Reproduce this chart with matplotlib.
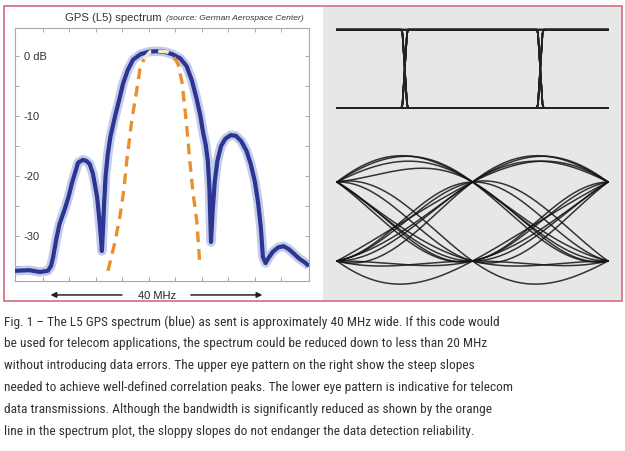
import numpy as np
import matplotlib
matplotlib.use("Agg")
import matplotlib.pyplot as plt
from matplotlib.patches import Rectangle
from matplotlib.transforms import blended_transform_factory
from matplotlib import font_manager as fm

# ---------------------------------------------------------------- data
L5_CENTER = 1176.45  # MHz

# measured GPS L5 spectrum, offset from carrier (MHz) and level (dB)
spec_mhz = [-26.7, -24.0, -22.0, -20.5, -19.9, -19.5, -18.9, -18.3, -17.3, -16.6,
            -15.9, -15.3, -14.8, -13.9, -13.2, -12.6, -12.0, -11.6, -11.2, -10.8,
            -10.5, -10.3, -10.1, -9.9, -9.6, -9.2, -8.7, -7.8, -7.0, -6.3,
            -5.4, -4.4, -3.0, -1.5, 0.0, 1.5, 3.0, 4.5, 5.7, 6.7,
            7.6, 8.3, 8.8, 9.3, 9.7, 10.0, 10.3, 10.6, 11.0, 11.5,
            12.2, 13.0, 14.0, 15.0, 16.0, 17.0, 17.8, 18.6, 19.2, 19.7,
            20.1, 20.6, 21.2, 22.0, 23.0, 24.0, 25.0, 26.0, 27.0, 28.0, 28.8]
spec_db = [-35.8, -35.7, -36.0, -35.8, -35.0, -33.5, -30.5, -28.0, -25.5, -23.5,
           -21.0, -19.3, -17.8, -17.3, -17.5, -18.0, -19.6, -21.5, -23.5, -27.0,
           -30.0, -32.5, -29.0, -25.0, -20.0, -16.5, -13.5, -10.0, -7.2, -4.6,
           -2.3, -0.6, 0.3, 0.7, 0.8, 0.7, 0.3, -0.4, -1.7, -4.1,
           -7.2, -10.0, -12.7, -14.8, -17.5, -22.0, -31.0, -26.0, -21.0, -17.5,
           -15.0, -13.8, -13.2, -13.3, -14.2, -15.8, -18.0, -21.0, -24.5, -28.5,
           -33.5, -34.5, -33.6, -32.6, -31.9, -31.7, -32.2, -33.0, -33.8, -34.4, -35.0]

# band-limited telecom spectrum (orange dashed line)
tele_mhz = [-9.15, -7.83, -6.89, -6.13, -5.57, -4.62, -3.68, -3.11, -2.36,
            -1.23, 0.28, 1.98, 3.30, 4.06, 4.81, 5.38, 5.94, 6.32, 6.89, 7.64, 8.21]
tele_db = [-35.8, -31.0, -26.7, -22.2, -17.2, -10.5, -5.5, -2.2, -0.5,
           0.7, 0.8, 0.7, -0.2, -1.3, -4.3, -8.8, -13.8, -17.7, -22.7, -27.7, -35.0]

db_labels = {0: "0 dB", -10: "-10", -20: "-20", -30: "-30"}

# bit sequence shown in both eye diagrams
eye_bits = [1, -1, 1, 1, -1, -1, 1, -1, -1, 1, 1, 1, -1, 1, -1, 1, 1, -1, -1, -1,
            1, 1, -1, 1, -1, -1, 1, 1, -1, 1, 1, -1, -1, 1, -1, 1, 1, 1, -1, -1]

caption = [
    "Fig. 1 \u2013 The L5 GPS spectrum (blue) as sent is approximately 40 MHz wide. If this code would",
    "be used for telecom applications, the spectrum could be reduced down to less than 20 MHz",
    "without introducing data errors. The upper eye pattern on the right show the steep slopes",
    "needed to achieve well-defined correlation peaks. The lower eye pattern is indicative for telecom",
    "data transmissions. Although the bandwidth is significantly reduced as shown by the orange",
    "line in the spectrum plot, the sloppy slopes do not endanger the data detection reliability.",
]

# ---------------------------------------------------------------- figure
W, H = 625, 452
fig = plt.figure(figsize=(W / 100, H / 100), dpi=100)
fig.patch.set_facecolor("white")
plot_font = ["Liberation Sans", "DejaVu Sans"]


def box(x0, y0, x1, y1):
    """Pixel box (top-left origin) -> figure fraction rect."""
    return [x0 / W, 1 - y1 / H, (x1 - x0) / W, (y1 - y0) / H]


def frect(x0, y0, x1, y1, **kw):
    r = Rectangle((x0 / W, 1 - y1 / H), (x1 - x0) / W, (y1 - y0) / H,
                  transform=fig.transFigure, **kw)
    fig.patches.append(r)


frect(323, 8, 621, 301, facecolor="#e7e7e7", edgecolor="none", zorder=-2)
frect(3.5, 7, 621.5, 302, fill=False, edgecolor="#d66a80", lw=1.2, zorder=5)

# ---------------------------------------------------------------- spectrum
ax = fig.add_axes(box(15, 28.5, 309, 282))
ax.set_xlim(-26.7, 28.8)
ax.set_ylim(-37.5, 4.75)
for s in ax.spines.values():
    s.set_color("#a8a8a8")
    s.set_linewidth(0.8)
ax.set_xticks(np.arange(1155, 1201, 5) - L5_CENTER)
ax.set_yticks(np.arange(-35, 5, 5))
ax.tick_params(direction="in", length=3, width=0.6, color="#999999",
               top=True, right=True, labelbottom=False, labelleft=False)

ax.plot(spec_mhz, spec_db, color="#a7b1e0", lw=6.8, alpha=0.65,
        solid_joinstyle="round", solid_capstyle="butt", zorder=2)
ax.plot(spec_mhz, spec_db, color="#2b3592", lw=3.0,
        solid_joinstyle="round", solid_capstyle="butt", zorder=3)

# telecom mask: pale on top where it lies over the blue band
tm = np.array(tele_mhz)
td = np.array(tele_db)
top = (tm >= -2.4) & (tm <= 3.4)
left = tm <= -2.3
right = tm >= 3.2
dash = (3.2, 2.1)
ax.plot(tm[left], td[left], color="#e98f2e", lw=2.4, dashes=dash, zorder=4)
ax.plot(tm[right], td[right], color="#e98f2e", lw=2.4, dashes=dash, zorder=4)
ax.plot(tm[top], td[top], color="#f4ead2", lw=2.4, dashes=dash, zorder=4)

tr = blended_transform_factory(ax.transAxes, ax.transData)
for v, lab in db_labels.items():
    ax.text(0.03, v, lab, transform=tr, ha="left", va="center",
            fontsize=8, color="#333333", family=plot_font)

fig.text(65 / W, 1 - 18 / H, "GPS (L5) spectrum", fontsize=8.1,
         color="#333333", va="center", ha="left", family=plot_font)
fig.text(166 / W, 1 - 18.5 / H, "(source: German Aerospace Center)",
         fontsize=6.1, style="italic", color="#333333", va="center", ha="left",
         family=plot_font)

# 40 MHz span arrows below the plot
ya = -0.055
ap = dict(arrowstyle="-|>", color="#222222", lw=1.1, mutation_scale=8,
          shrinkA=0, shrinkB=0)
ax.annotate("", xy=(-20, ya), xytext=(-6.5, ya),
            xycoords=("data", "axes fraction"), arrowprops=ap, annotation_clip=False)
ax.annotate("", xy=(20, ya), xytext=(6.5, ya),
            xycoords=("data", "axes fraction"), arrowprops=ap, annotation_clip=False)
ax.text(0.1, ya, "40 MHz", transform=blended_transform_factory(ax.transData, ax.transAxes),
        ha="center", va="center", fontsize=8, color="#222222", family=plot_font)

# ---------------------------------------------------------------- eye diagrams
bits = np.array(eye_bits, dtype=float)
idx = np.arange(len(bits))
tt = np.linspace(0, 2, 241)


def nrz(t, width=0.037):
    m = np.floor(t).astype(int)
    m = np.clip(m, 0, len(bits) - 2)
    frac = np.clip((t - m - 0.5) / width + 0.5, 0, 1)
    return bits[m] + (bits[m + 1] - bits[m]) * frac


def raised_cos(t, beta=0.3):
    den = 1 - (2 * beta * t) ** 2
    near = np.abs(den) < 1e-4
    safe = np.where(near, 1.0, den)
    val = np.sinc(t) * np.cos(np.pi * beta * t) / safe
    limit = np.pi / 4 * np.sinc(1 / (2 * beta))
    return np.where(near, limit, val)


def shaped(t):
    return (bits[None, :] * raised_cos(t[:, None] - idx[None, :])).sum(axis=1)


ax_up = fig.add_axes(box(337, 30.7, 608, 109))
ax_lo = fig.add_axes(box(337, 183, 608, 262))
for a in (ax_up, ax_lo):
    a.set_xlim(0, 2)
    a.set_ylim(-1, 1)
    a.axis("off")

for k in range(10, len(bits) - 11):
    ax_up.plot(tt, nrz(k + tt), color="#222222", lw=1.2, clip_on=False)
    ax_lo.plot(tt, shaped(k + tt), color="#141414", lw=1.1, alpha=0.85,
               clip_on=False)

# ---------------------------------------------------------------- caption
def caption_font():
    entries = fm.fontManager.ttflist
    wanted = ["Liberation Sans Narrow", "Roboto Condensed", "Open Sans Condensed",
              "Noto Sans Condensed", "DejaVu Sans Condensed"]
    bad = ("mono", "serif", "bold", "italic", "oblique", "light", "thin", "black",
           "medium", "semibold", "extra", "ultra", "semi", "display", "cjk", "heavy")
    for name in wanted:
        for f in entries:
            full = (f.name + " " + f.fname.split("/")[-1]).lower()
            if f.name == name and f.style == "normal" and not any(b in full for b in bad[2:]):
                return fm.FontProperties(fname=f.fname)
    for f in entries:
        base = f.fname.split("/")[-1].lower()
        if (("condensed" in base or "narrow" in base) and f.style == "normal"
                and not any(b in base for b in bad)):
            return fm.FontProperties(fname=f.fname)
    return fm.FontProperties(family=["Liberation Sans", "DejaVu Sans"])


cap_prop = caption_font()
cap_texts = []
for i, line in enumerate(caption):
    t = fig.text(4 / W, 1 - (322 + 22 * i) / H, line, fontproperties=cap_prop,
                 color="#333333", ha="left", va="center")
    t.set_fontsize(9.3)
    cap_texts.append(t)

# size the caption so its longest line ends near the right margin
fig.canvas.draw()
rend = fig.canvas.get_renderer()
widest = max(t.get_window_extent(rend).width for t in cap_texts)
size = min(10.5, 9.3 * 509 / widest)
for t in cap_texts:
    t.set_fontsize(size)

fig.savefig("out.png", dpi=100, facecolor="white")
